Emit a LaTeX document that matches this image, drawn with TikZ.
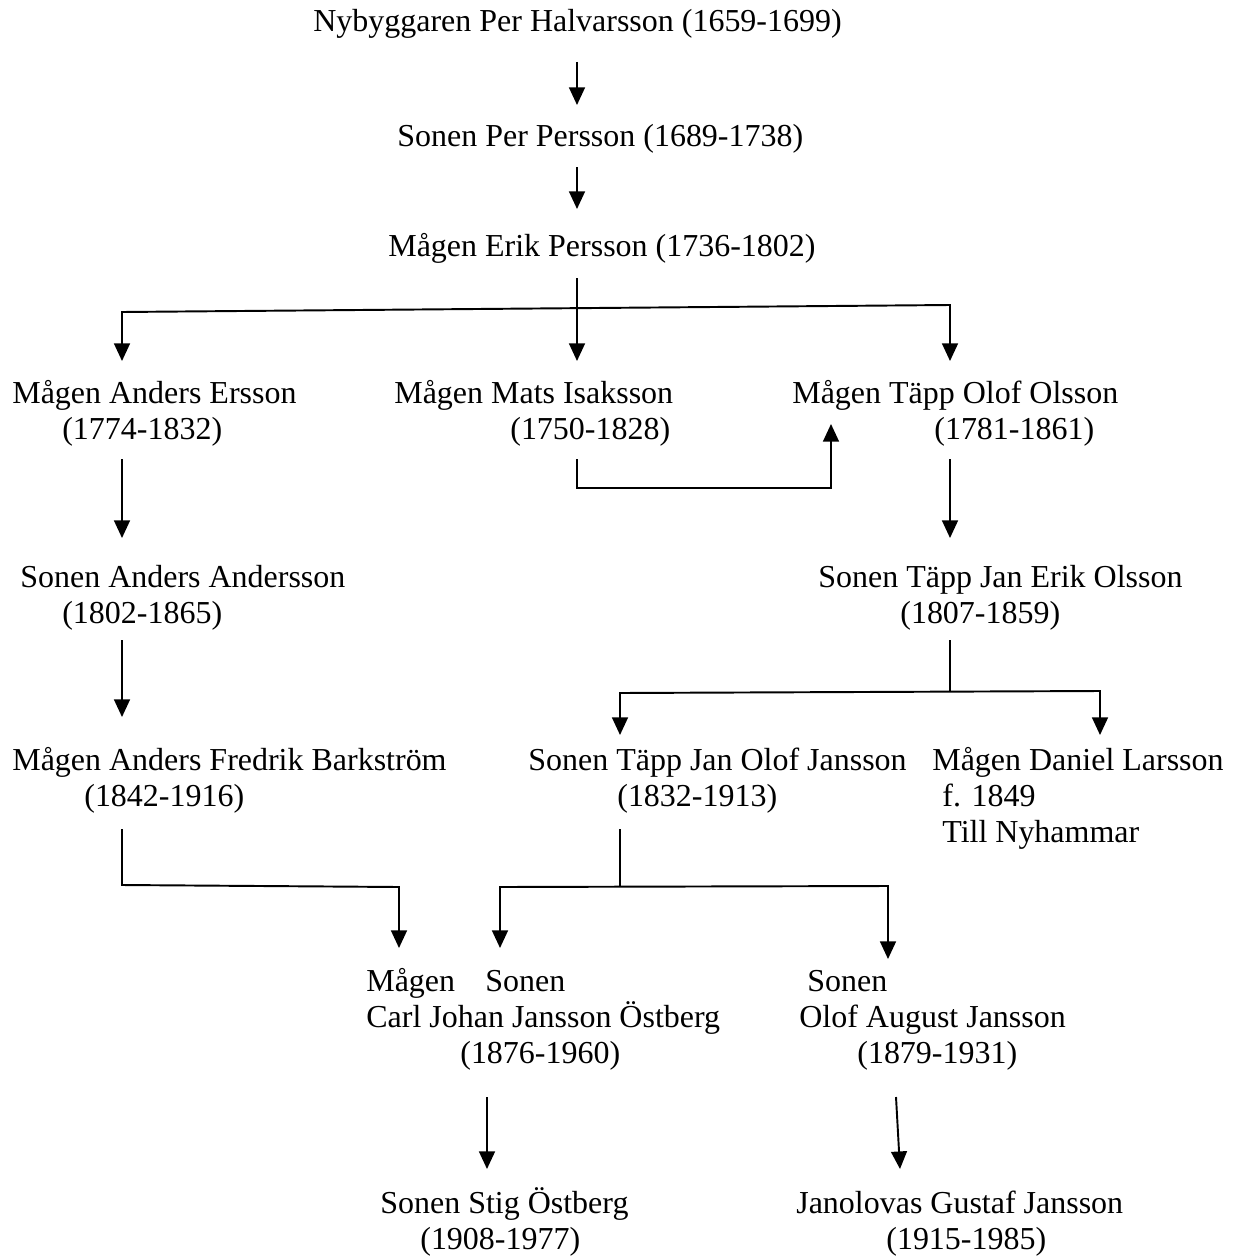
\documentclass[tikz,border=0pt]{standalone}
\usepackage{fontspec}
\setmainfont{Liberation Serif}
\usetikzlibrary{arrows.meta}
\newcommand{\fs}{\fontsize{18.2}{21}\selectfont}
\begin{document}
\begin{tikzpicture}[x=0.02cm,y=-0.02cm,
  txt/.style={anchor=base west,inner sep=0pt,font=\fs},
  ln/.style={line width=1.1pt,line join=miter},
  arr/.style={ln,-{Triangle[length=10pt,width=9pt]}},
  darr/.style={ln,{Triangle[length=10pt,width=9pt]}-{Triangle[length=10pt,width=9pt]}}]
\useasboundingbox[fill=white] (0,0) rectangle (1233,1257);
% texts
\node[txt] (n1) at (313,32) {Nybyggaren Per Halvarsson (1659-1699)};
\node[txt] (n2) at (397,146) {Sonen Per Persson (1689-1738)};
\node[txt] (n3) at (388,256) {Mågen Erik Persson (1736-1802)};
\node[txt] (a1) at (12,403) {Mågen Anders Ersson};
\node[txt] (a1d) at (62,439) {(1774-1832)};
\node[txt] (m1) at (394,403) {Mågen Mats Isaksson};
\node[txt] (m1d) at (510,439) {(1750-1828)};
\node[txt] (t1) at (792,403) {Mågen Täpp Olof Olsson};
\node[txt] (t1d) at (934,439) {(1781-1861)};
\node[txt] (a2) at (20,587) {Sonen Anders Andersson};
\node[txt] (a2d) at (62,623) {(1802-1865)};
\node[txt] (t2) at (818,587) {Sonen Täpp Jan Erik Olsson};
\node[txt] (t2d) at (900,623) {(1807-1859)};
\node[txt] (a3) at (12,770) {Mågen Anders Fredrik Barkström};
\node[txt] (a3d) at (84,806) {(1842-1916)};
\node[txt] (t3) at (528,770) {Sonen Täpp Jan Olof Jansson};
\node[txt] (t3d) at (617,806) {(1832-1913)};
\node[txt] (d3) at (932,770) {Mågen Daniel Larsson};
\node[txt] (d3d) at (942,806) {f. 1849};
\node[txt] (d3p) at (942,842) {Till Nyhammar};
\node[txt] (c4a) at (366,991) {Mågen};
\node[txt] (c4b) at (485,991) {Sonen};
\node[txt] (c4) at (366,1027) {Carl Johan Jansson Östberg};
\node[txt] (c4d) at (460,1063) {(1876-1960)};
\node[txt] (o4a) at (807,991) {Sonen};
\node[txt] (o4) at (799,1027) {Olof August Jansson};
\node[txt] (o4d) at (857,1063) {(1879-1931)};
\node[txt] (s5) at (380,1213) {Sonen Stig Östberg};
\node[txt] (s5d) at (420,1249) {(1908-1977)};
\node[txt] (g5) at (796,1213) {Janolovas Gustaf Jansson};
\node[txt] (g5d) at (886,1249) {(1915-1985)};
% connector points
\coordinate (p1a) at (577,62);  \coordinate (p1b) at (577,105);
\coordinate (p2a) at (577,167); \coordinate (p2b) at (577,209);
\coordinate (p3a) at (577,278); \coordinate (p3b) at (577,361);
\coordinate (hL) at (122,312);  \coordinate (hR) at (950,305);
\coordinate (hLb) at (122,361); \coordinate (hRb) at (950,361);
\coordinate (mA) at (577,459);  \coordinate (mB) at (577,488);
\coordinate (mC) at (831,488);  \coordinate (mD) at (831,424);
\coordinate (q1a) at (122,459); \coordinate (q1b) at (122,538);
\coordinate (q2a) at (950,459); \coordinate (q2b) at (950,538);
\coordinate (r1a) at (122,640); \coordinate (r1b) at (122,717);
\coordinate (r2a) at (950,640); \coordinate (r2b) at (950,692);
\coordinate (r2L) at (620,693); \coordinate (r2R) at (1100,691);
\coordinate (r2Lb) at (620,735); \coordinate (r2Rb) at (1100,735);
\coordinate (u1a) at (122,829); \coordinate (u1b) at (122,885);
\coordinate (u1c) at (399,887); \coordinate (u1d) at (399,948);
\coordinate (u2a) at (620,829); \coordinate (u2b) at (620,886);
\coordinate (u2L) at (500,887); \coordinate (u2R) at (888,886);
\coordinate (u2Lb) at (500,948); \coordinate (u2Rb) at (888,959);
\coordinate (v1a) at (487,1097); \coordinate (v1b) at (487,1169);
\coordinate (v2a) at (896,1097); \coordinate (v2b) at (900,1169);
% connectors
\draw[arr] (p1a) -- (p1b);
\draw[arr] (p2a) -- (p2b);
\draw[arr] (p3a) -- (p3b);
\draw[darr] (hLb) -- (hL) -- (hR) -- (hRb);
\draw[arr] (mA) -- (mB) -- (mC) -- (mD);
\draw[arr] (q1a) -- (q1b);
\draw[arr] (q2a) -- (q2b);
\draw[arr] (r1a) -- (r1b);
\draw[ln] (r2a) -- (r2b);
\draw[darr] (r2Lb) -- (r2L) -- (r2R) -- (r2Rb);
\draw[arr] (u1a) -- (u1b) -- (u1c) -- (u1d);
\draw[ln] (u2a) -- (u2b);
\draw[darr] (u2Lb) -- (u2L) -- (u2R) -- (u2Rb);
\draw[arr] (v1a) -- (v1b);
\draw[arr] (v2a) -- (v2b);
\end{tikzpicture}
\end{document}
